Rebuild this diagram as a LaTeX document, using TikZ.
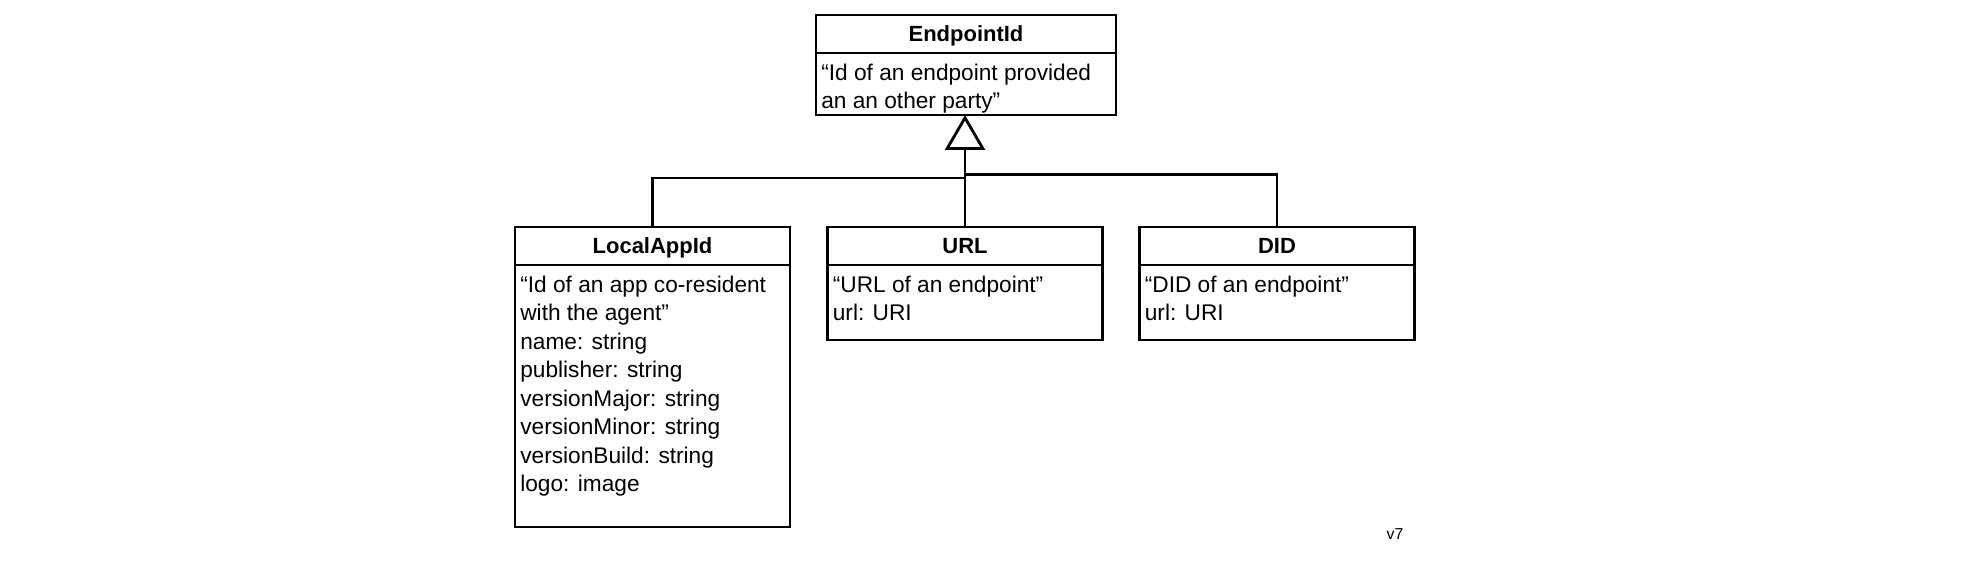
\documentclass[tikz,border=0pt]{standalone}
\usepackage{fontspec}
\setmainfont{Liberation Sans}
\usetikzlibrary{arrows.meta}
\begin{document}
\begin{tikzpicture}
  \tikzstyle{every node}=[font=\fontsize{12.9}{16.2}\selectfont, text=black]
  \tikzstyle{title}=[draw=black, line width=1.6pt, minimum width=5.5cm, minimum height=0.76cm, inner sep=0pt, outer sep=0pt, text depth=0pt, font=\fontsize{12.5}{15}\selectfont\bfseries]
  \tikzstyle{body}=[draw=black, line width=1.6pt, minimum width=5.5cm, anchor=north, inner sep=0pt, outer sep=0pt]
  \tikzstyle{attrs}=[anchor=north west, align=left, inner xsep=0.1cm, inner ysep=0.21cm]
  \tikzstyle{edge}=[black, line width=1.6pt]

  \useasboundingbox (0,0) rectangle (39.6,-11.32);

  % super class
  \node[title, minimum width=6cm] (ep) at (19.32,-0.68) {EndpointId};
  \node[body, minimum width=6cm, minimum height=1.24cm] (epbody) at (ep.south) {};
  \node[attrs] (eptext) at (epbody.north west) {“Id of an endpoint provided\\an an other party”};

  % sub classes
  \node[title] (local) at (13.05,-4.92) {LocalAppId};
  \node[body, minimum height=5.24cm] (localbody) at (local.south) {};
  \node[attrs] (localtext) at (localbody.north west) {“Id of an app co-resident\\with the agent”\\name: string\\publisher: string\\versionMajor: string\\versionMinor: string\\versionBuild: string\\logo: image};

  \node[title] (url) at (19.3,-4.92) {URL};
  \node[body, minimum height=1.5cm] (urlbody) at (url.south) {};
  \node[attrs] (urltext) at (urlbody.north west) {“URL of an endpoint”\\url: URI};

  \node[title] (did) at (25.54,-4.92) {DID};
  \node[body, minimum height=1.5cm] (didbody) at (did.south) {};
  \node[attrs] (didtext) at (didbody.north west) {“DID of an endpoint”\\url: URI};

  % generalisation
  \coordinate (jl) at (19.3,-3.56);
  \coordinate (jr) at (19.3,-3.49);
  \draw[edge, -{Triangle[open, length=0.7cm, width=0.8cm]}] (url.north) -- (url.north |- epbody.south);
  \draw[edge] (local.north) |- (jl);
  \draw[edge] (did.north) |- (jr);

  \node[font=\fontsize{9}{10}\selectfont] (ver) at (27.9,-10.68) {v7};
\end{tikzpicture}
\end{document}
